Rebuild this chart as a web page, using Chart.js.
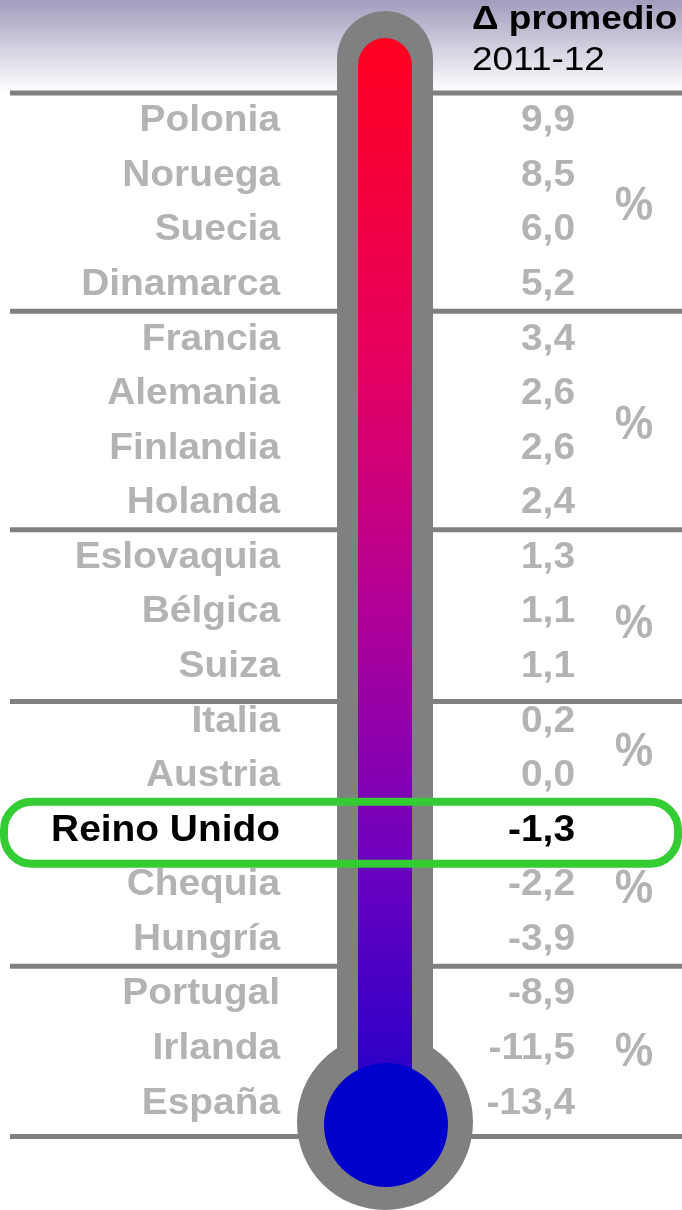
<!DOCTYPE html>
<html>
<head>
<meta charset="utf-8">
<script src="https://cdn.jsdelivr.net/npm/chart.js@4"></script>
<style>
  html, body { margin: 0; padding: 0; background: #fff; }
  canvas { display: block; }
</style>
</head>
<body>
<canvas id="thermo" width="682" height="1210"></canvas>
<script>
// datos: variación promedio 2011-12 (%)
var countries = ["Polonia", "Noruega", "Suecia", "Dinamarca", "Francia", "Alemania", "Finlandia", "Holanda",
    "Eslovaquia", "Bélgica", "Suiza", "Italia", "Austria", "Reino Unido", "Chequia", "Hungría",
    "Portugal", "Irlanda", "España"];
var values = [9.9, 8.5, 6.0, 5.2, 3.4, 2.6, 2.6, 2.4, 1.3, 1.1, 1.1, 0.2, 0.0, -1.3, -2.2, -3.9, -8.9, -11.5, -13.4];
var highlight = "Reino Unido";
var headerTitle = "Δ promedio";
var headerPeriod = "2011-12";

// separadores y signos % (en unidades de fila)
var separatorRows = [-0.5, 3.5, 7.5, 10.65, 15.5, 18.62];
var pctRows = [1.5, 5.5, 9.15, 11.5, 14, 17];

var GRAY_TEXT = "#b3b3b3";
var FONT = "'Liberation Sans', Arial, sans-serif";

function fmt(v){
    return v.toFixed(1).replace(".", ",");
}

function stretchText(ctx, txt, x, y, sx){
    ctx.save();
    ctx.translate(x, y);
    ctx.scale(sx, 1);
    ctx.fillText(txt, 0, 0);
    ctx.restore();
}

var thermoPlugin = {
    id: "thermo",
    beforeDraw: function(chart){
        var ctx = chart.ctx;
        var bg = ctx.createLinearGradient(0, 0, 0, 92);
        bg.addColorStop(0, "#a29cbd");
        bg.addColorStop(1, "#ffffff");
        ctx.save();
        ctx.fillStyle = "#ffffff";
        ctx.fillRect(0, 0, chart.width, chart.height);
        ctx.fillStyle = bg;
        ctx.fillRect(0, 0, chart.width, 92);
        ctx.restore();
    },
    afterDatasetsDraw: function(chart){
        var ctx = chart.ctx;
        var y = chart.scales.y;
        var cx = 385;
        ctx.save();

        // lineas de grupo
        ctx.strokeStyle = "#808080";
        ctx.lineWidth = 5;
        separatorRows.forEach(function(r){
            var py = y.getPixelForValue(r);
            ctx.beginPath();
            ctx.moveTo(10, py);
            ctx.lineTo(chart.width, py);
            ctx.stroke();
        });

        // tubo exterior + bulbo
        ctx.fillStyle = "#808080";
        ctx.beginPath();
        ctx.moveTo(cx - 48, 1122);
        ctx.lineTo(cx - 48, 59);
        ctx.arc(cx, 59, 48, Math.PI, 0);
        ctx.lineTo(cx + 48, 1122);
        ctx.closePath();
        ctx.fill();
        ctx.beginPath();
        ctx.arc(cx, 1122, 88, 0, Math.PI * 2);
        ctx.fill();

        // columna interior
        var grad = ctx.createLinearGradient(0, 40, 0, 1080);
        grad.addColorStop(0, "#ff0020");
        grad.addColorStop(0.3, "#e8005e");
        grad.addColorStop(0.55, "#b00098");
        grad.addColorStop(0.8, "#6a00c0");
        grad.addColorStop(1, "#2a00c8");
        ctx.fillStyle = grad;
        ctx.beginPath();
        ctx.moveTo(cx - 27, 1110);
        ctx.lineTo(cx - 27, 65);
        ctx.arc(cx, 65, 27, Math.PI, 0);
        ctx.lineTo(cx + 27, 1110);
        ctx.closePath();
        ctx.fill();

        ctx.fillStyle = "#0000cc";
        ctx.beginPath();
        ctx.arc(cx + 1, 1125, 62, 0, Math.PI * 2);
        ctx.fill();

        // cabecera
        ctx.fillStyle = "#000";
        ctx.textAlign = "left";
        ctx.textBaseline = "alphabetic";
        ctx.font = "bold 33px " + FONT;
        stretchText(ctx, headerTitle, 472, 29, 1.12);
        ctx.font = "33px " + FONT;
        stretchText(ctx, headerPeriod, 472, 70, 1.12);

        // paises y valores
        ctx.textAlign = "right";
        ctx.textBaseline = "middle";
        ctx.font = "bold 36px " + FONT;
        countries.forEach(function(name, i){
            var py = y.getPixelForValue(i);
            ctx.fillStyle = name === highlight ? "#000" : GRAY_TEXT;
            stretchText(ctx, name, 280, py + 1, 1.08);
            stretchText(ctx, fmt(values[i]), 575, py + 1, 1.08);
        });

        // signos %
        ctx.textAlign = "center";
        ctx.fillStyle = GRAY_TEXT;
        ctx.font = "bold 48px " + FONT;
        pctRows.forEach(function(r){
            stretchText(ctx, "%", 634, y.getPixelForValue(r) + 5, 0.9);
        });

        // recuadro destacado
        var hy = y.getPixelForValue(countries.indexOf(highlight)) + 3;
        ctx.strokeStyle = "#33cc33";
        ctx.lineWidth = 8;
        ctx.beginPath();
        ctx.roundRect(4, hy - 31, 674, 62, 28);
        ctx.stroke();

        ctx.restore();
    }
};

var ctx = document.getElementById("thermo");
var chart = new Chart(ctx, {
    type: "bar",
    data: {
        labels: countries,
        datasets: [{
            data: values,
            backgroundColor: "rgba(0,0,0,0)",
            borderWidth: 0
        }]
    },
    options: {
        indexAxis: "y",
        responsive: false,
        animation: false,
        layout: { padding: { top: 93, bottom: 80, left: 0, right: 0 } },
        plugins: {
            legend: { display: false },
            tooltip: { enabled: false }
        },
        scales: {
            x: { display: false },
            y: { display: false }
        }
    },
    plugins: [thermoPlugin]
});
</script>
</body>
</html>
